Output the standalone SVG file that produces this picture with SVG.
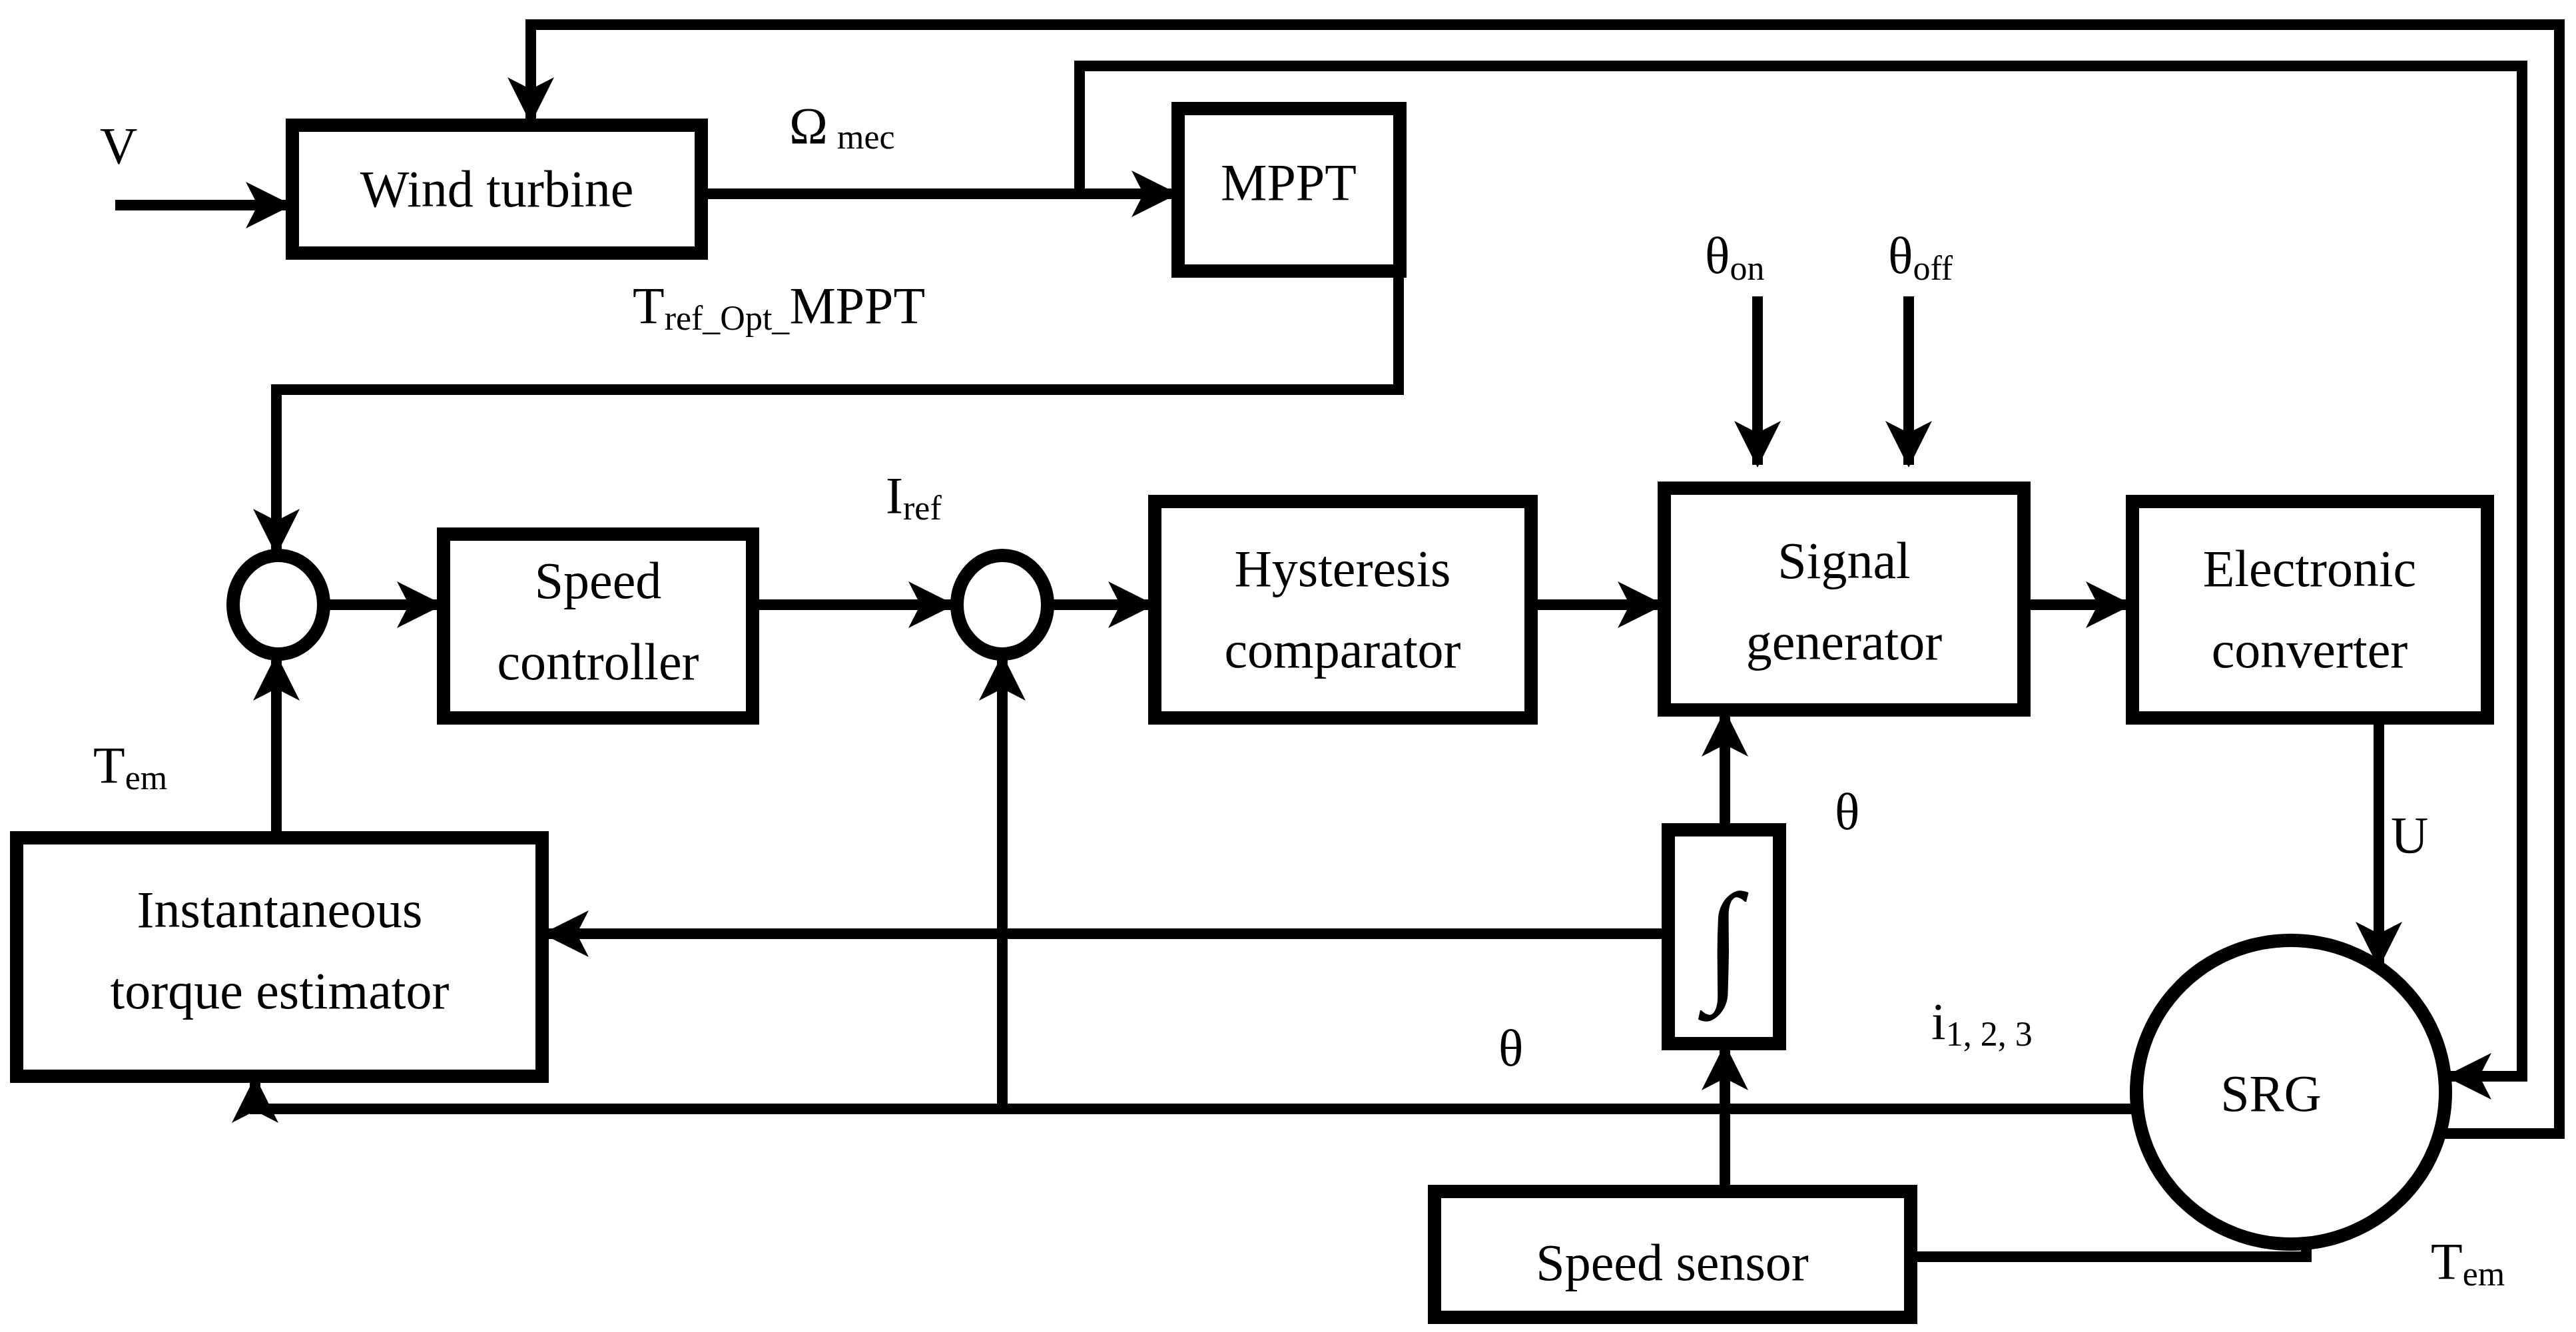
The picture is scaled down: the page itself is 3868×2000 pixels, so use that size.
<svg xmlns="http://www.w3.org/2000/svg" width="3868" height="2000" viewBox="0 0 3868 2000">
<style>
.b{fill:#fff;stroke:#000;stroke-width:20}
.c{fill:none;stroke:#000;stroke-width:16}
.t{font-family:"Liberation Serif",serif;font-size:78px;fill:#000;text-anchor:middle}
.l{font-family:"Liberation Serif",serif;font-size:78px;fill:#000}
.s{font-size:52px}
</style>
<defs>
<marker id="a" markerUnits="userSpaceOnUse" markerWidth="70" markerHeight="70" refX="66" refY="35" orient="auto">
<path d="M0,0 L70,35 L0,70 L18,35 z" fill="#000"/>
</marker>
</defs>
<rect width="3868" height="2000" fill="#fff"/>
<g id="connectors">
<path class="c" d="M173,308 H435" marker-end="url(#a)"/>
<path class="c" d="M1053,291 H1765" marker-end="url(#a)"/>
<path class="c" d="M1621,291 V99 H3787 V1616 H3675" marker-end="url(#a)"/>
<path class="c" d="M3663,1702 H3843 V37 H797 V182" marker-end="url(#a)"/>
<path class="c" d="M2100,407 V585 H415 V830" marker-end="url(#a)"/>
<path class="c" d="M486,908 H662" marker-end="url(#a)"/>
<path class="c" d="M1130,908 H1430" marker-end="url(#a)"/>
<path class="c" d="M1577,908 H1730" marker-end="url(#a)"/>
<path class="c" d="M2299,908 H2495" marker-end="url(#a)"/>
<path class="c" d="M2639,445 V698" marker-end="url(#a)"/>
<path class="c" d="M2866,445 V698" marker-end="url(#a)"/>
<path class="c" d="M3039,908 H3198" marker-end="url(#a)"/>
<path class="c" d="M3572,1078 V1450" marker-end="url(#a)"/>
<path class="c" d="M415,1258 V986" marker-end="url(#a)"/>
<path class="c" d="M2590,1246 V1070" marker-end="url(#a)"/>
<path class="c" d="M2505,1402 H818" marker-end="url(#a)"/>
<path class="c" d="M3208,1665 H383 V1620" marker-end="url(#a)"/>
<path class="c" d="M1505,1665 V986" marker-end="url(#a)"/>
<path class="c" d="M2590,1789 V1571" marker-end="url(#a)"/>
<path class="c" d="M2869,1887 H3463 V1866"/>
</g>
<g id="wind_turbine"><rect class="b" x="439" y="188" width="614" height="192"/><text class="t" x="746" y="310">Wind turbine</text></g>
<g id="mppt"><rect class="b" x="1769" y="163" width="333" height="244"/><text class="t" x="1935" y="300">MPPT</text></g>
<g id="sum1"><ellipse class="b" cx="418" cy="908" rx="68" ry="74"/></g>
<g id="sum2"><ellipse class="b" cx="1505" cy="908" rx="68" ry="74"/></g>
<g id="speed_controller"><rect class="b" x="666" y="802" width="464" height="276"/><text class="t" x="898" y="898">Speed</text><text class="t" x="898" y="1020">controller</text></g>
<g id="hysteresis"><rect class="b" x="1734" y="753" width="565" height="325"/><text class="t" x="2016" y="880">Hysteresis</text><text class="t" x="2016" y="1002">comparator</text></g>
<g id="signal_generator"><rect class="b" x="2499" y="733" width="540" height="333"/><text class="t" x="2769" y="868">Signal</text><text class="t" x="2769" y="990">generator</text></g>
<g id="electronic_converter"><rect class="b" x="3202" y="753" width="533" height="325"/><text class="t" x="3468" y="880">Electronic</text><text class="t" x="3468" y="1002">converter</text></g>
<g id="torque_estimator"><rect class="b" x="25" y="1258" width="789" height="358"/><text class="t" x="420" y="1392">Instantaneous</text><text class="t" x="420" y="1514">torque estimator</text></g>
<g id="integrator"><rect class="b" x="2505" y="1246" width="167" height="321"/><text class="t" x="2588" y="1480" style="font-size:200px">∫</text></g>
<g id="srg"><ellipse class="b" cx="3440" cy="1640" rx="232" ry="228"/><text class="t" x="3410" y="1668">SRG</text></g>
<g id="speed_sensor"><rect class="b" x="2154" y="1789" width="715" height="189"/><text class="t" x="2511" y="1922">Speed sensor</text></g>
<g id="labels">
<text class="l" x="150" y="245">V</text>
<text class="l" x="1185" y="215">Ω<tspan class="s" dx="14" dy="8">mec</tspan></text>
<text class="l" x="950" y="485">T<tspan class="s" dy="10">ref_Opt_</tspan><tspan dy="-10">MPPT</tspan></text>
<text class="l" x="1330" y="770">I<tspan class="s" dy="10">ref</tspan></text>
<text class="l" x="2560" y="410">θ<tspan class="s" dy="10">on</tspan></text>
<text class="l" x="2835" y="410">θ<tspan class="s" dy="10">off</tspan></text>
<text class="l" x="140" y="1175">T<tspan class="s" dy="10">em</tspan></text>
<text class="l" x="2755" y="1245">θ</text>
<text class="l" x="3590" y="1280">U</text>
<text class="l" x="2250" y="1600">θ</text>
<text class="l" x="2900" y="1560">i<tspan class="s" dy="10">1, 2, 3</tspan></text>
<text class="l" x="3650" y="1920">T<tspan class="s" dy="10">em</tspan></text>
</g>
</svg>
